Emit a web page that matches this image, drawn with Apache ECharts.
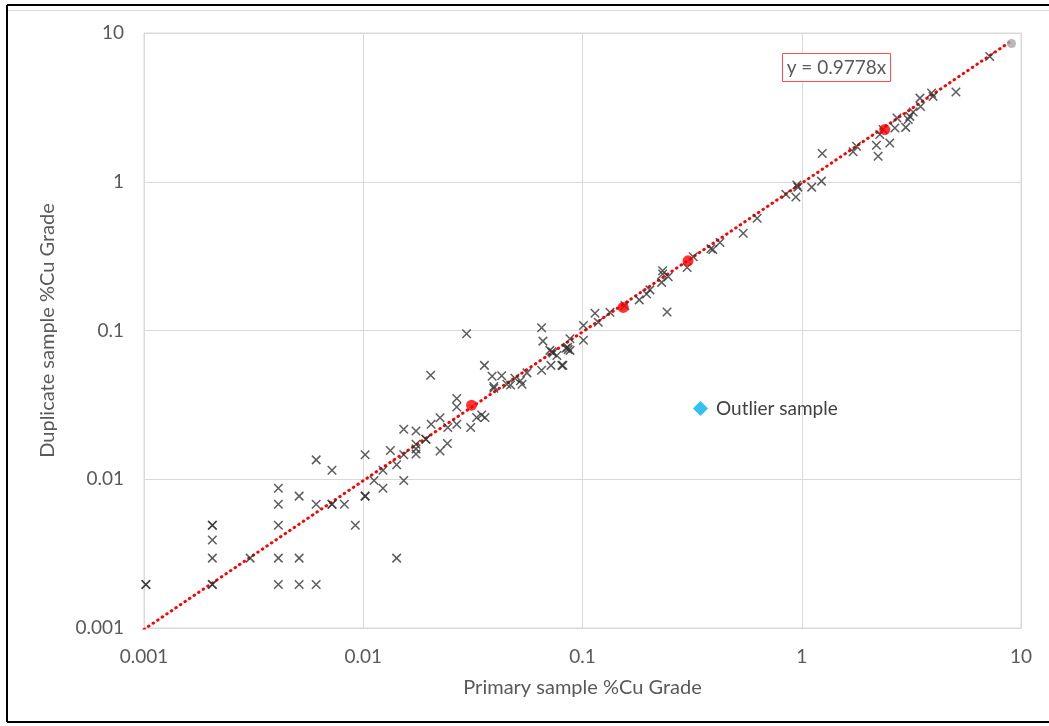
<!DOCTYPE html>
<html>
<head>
<meta charset="utf-8">
<script src="https://cdn.jsdelivr.net/npm/echarts@6/dist/echarts.min.js"></script>
<style>html,body{margin:0;padding:0;background:#fff;}#c{width:1049px;height:726px;}</style>
</head>
<body>
<div id="c"></div>
<script>
// ---- data ----
const xTicks = [0.001, 0.01, 0.1, 1, 10];
const yTicks = [0.001, 0.01, 0.1, 1, 10];
const duplicatePairs = [
  [0.00102,0.00196],[0.00102,0.00196],
  [0.00205,0.0049],[0.00205,0.0049],[0.00205,0.0039],[0.00205,0.00295],[0.00205,0.00196],[0.00205,0.00196],
  [0.00305,0.00295],
  [0.0041,0.0087],[0.0041,0.0068],[0.0041,0.0049],[0.0041,0.00295],[0.0041,0.00196],
  [0.0051,0.0077],[0.0051,0.00295],[0.0051,0.00196],
  [0.0061,0.0135],[0.0061,0.0068],[0.0061,0.00196],
  [0.0072,0.0115],[0.0072,0.0068],[0.0072,0.0068],
  [0.0082,0.0068],[0.0092,0.0049],
  [0.0102,0.0146],[0.0102,0.0077],[0.0102,0.0077],
  [0.0112,0.0098],[0.0123,0.0115],[0.0123,0.0087],[0.0133,0.0156],
  [0.0142,0.0125],[0.0142,0.00295],
  [0.0153,0.0146],[0.0153,0.0098],[0.0153,0.0217],
  [0.0174,0.0211],[0.0174,0.0172],[0.0174,0.016],[0.0174,0.0148],
  [0.0193,0.0186],[0.0193,0.0186],
  [0.0204,0.0234],[0.0224,0.0259],[0.0224,0.0155],[0.0242,0.0174],[0.0243,0.0223],
  [0.0267,0.0234],[0.0267,0.0349],[0.0267,0.0306],
  [0.0296,0.0951],[0.0203,0.050],
  [0.0309,0.0223],[0.0329,0.026],[0.0347,0.027],[0.0359,0.026],
  [0.0357,0.0583],[0.0387,0.0492],[0.0428,0.0497],
  [0.0394,0.0409],[0.0394,0.042],
  [0.0452,0.0435],[0.047,0.043],[0.0492,0.0477],[0.053,0.0435],[0.0521,0.046],[0.0558,0.0519],
  [0.0651,0.054],[0.0651,0.1042],[0.066,0.0848],
  [0.071,0.0735],[0.0733,0.0705],[0.0725,0.072],
  [0.0718,0.0583],[0.0814,0.0583],[0.0805,0.0583],
  [0.0764,0.068],[0.084,0.076],[0.0877,0.0735],[0.086,0.0745],[0.0855,0.077],
  [0.0877,0.088],
  [0.101,0.108],[0.101,0.086],[0.114,0.1306],[0.118,0.1137],[0.1334,0.1327],
  [0.156,0.147],[0.1815,0.1606],[0.196,0.176],[0.203,0.1875],
  [0.2296,0.2106],[0.232,0.240],[0.232,0.2523],[0.246,0.230],[0.243,0.133],
  [0.300,0.2655],[0.32,0.313],[0.385,0.354],[0.393,0.35],[0.4236,0.390],
  [0.541,0.451],[0.626,0.569],[0.846,0.823],[0.94,0.79],[0.95,0.95],[0.96,0.92],
  [1.11,0.92],[1.23,1.01],[1.24,1.549],[1.715,1.589],[1.778,1.734],
  [2.19,1.762],[2.23,1.486],[2.27,2.077],[2.35,2.244],[2.52,1.824],[2.66,2.30],
  [2.72,2.68],[2.98,2.32],[3.06,2.62],[3.11,2.75],[3.22,2.94],
  [3.46,3.65],[3.48,3.21],[3.91,3.95],[3.97,3.75],[5.05,4.01],[7.2,6.95]
];
const checkPoints = [[0.0312,0.0315],[0.1533,0.143],[0.303,0.294],[2.39,2.244]];
const endPoint = [[9.05,8.5]];
const outlierSamples = [];
const slope = 0.9778;
const trendX = [0.001, 9.05];
const trendLine = trendX.map(x => [x, slope * x]);
const equationText = 'y = ' + slope + 'x';

const FONT = 'Lato';
const chart = echarts.init(document.getElementById('c'));
chart.setOption({
  animation: false,
  backgroundColor: '#fff',
  textStyle: { fontFamily: FONT },
  grid: { left: 144, top: 33, right: 28, bottom: 98, show: true, borderColor: '#d9d9d9', borderWidth: 1 },
  legend: {
    data: ['Outlier sample'], left: 688, top: 394, icon: 'diamond', itemWidth: 15, itemHeight: 15, itemGap: 6,
    textStyle: { color: '#404040', fontSize: 19, fontFamily: FONT, padding: [0, 0, 0, 3] }
  },
  xAxis: {
    type: 'log', logBase: 10, min: xTicks[0], max: xTicks[xTicks.length - 1],
    name: 'Primary sample %Cu Grade', nameLocation: 'middle', nameGap: 50,
    nameTextStyle: { color: '#595959', fontSize: 20, fontFamily: FONT },
    axisLine: { lineStyle: { color: '#d9d9d9' } }, axisTick: { show: false },
    axisLabel: { color: '#595959', fontSize: 19, margin: 19, formatter: v => String(+v.toPrecision(3)) },
    splitLine: { show: true, lineStyle: { color: '#d9d9d9' } }
  },
  yAxis: {
    type: 'log', logBase: 10, min: yTicks[0], max: yTicks[yTicks.length - 1],
    name: 'Duplicate sample %Cu Grade', nameLocation: 'middle', nameGap: 86,
    nameTextStyle: { color: '#595959', fontSize: 20, fontFamily: FONT },
    axisLine: { lineStyle: { color: '#d9d9d9' } }, axisTick: { show: false },
    axisLabel: { color: '#595959', fontSize: 19, margin: 20, formatter: v => String(+v.toPrecision(3)) },
    splitLine: { show: true, lineStyle: { color: '#d9d9d9' } }
  },
  series: [
    {
      name: 'Trend', type: 'line', data: trendLine, symbol: 'none', clip: true, z: 3,
      lineStyle: { color: '#ff0000', width: 3, type: [0.5, 5], cap: 'round' }
    },
    {
      name: 'Samples', type: 'scatter', data: duplicatePairs, z: 4,
      symbol: 'path://M0,0L10,10M10,0L0,10', symbolSize: 8.5,
      itemStyle: { color: 'rgba(0,0,0,0)', borderColor: '#333333', borderWidth: 1.5 }
    },
    {
      name: 'Check', type: 'scatter', data: checkPoints, symbol: 'circle', symbolSize: 11, z: 5,
      itemStyle: { color: '#ff0000' }
    },
    {
      name: 'End', type: 'scatter', data: endPoint, symbol: 'circle', symbolSize: 9, z: 5,
      itemStyle: { color: '#a6a6a6' }
    },
    {
      name: 'Outlier sample', type: 'scatter', data: outlierSamples, symbol: 'diamond', symbolSize: 12,
      itemStyle: { color: '#00b0f0' }
    }
  ],
  graphic: [
    { type: 'rect', shape: { x: 782.5, y: 53.5, width: 108, height: 28 }, style: { fill: '#fff', stroke: '#ff4d4d', lineWidth: 1 }, z: 10 },
    { type: 'text', x: 836.5, y: 67.5, style: { text: equationText, fill: '#595959', font: '19px ' + FONT, align: 'center', verticalAlign: 'middle' }, z: 11 },
    { type: 'line', shape: { x1: 7, y1: 5, x2: 1049, y2: 5 }, style: { stroke: '#000', lineWidth: 2 } },
    { type: 'line', shape: { x1: 7, y1: 5, x2: 7, y2: 722 }, style: { stroke: '#000', lineWidth: 2 } },
    { type: 'line', shape: { x1: 7, y1: 722, x2: 1049, y2: 722 }, style: { stroke: '#000', lineWidth: 2 } },
    { type: 'line', shape: { x1: 8, y1: 10.5, x2: 1049, y2: 10.5 }, style: { stroke: '#d9d9d9', lineWidth: 1 } }
  ]
});
</script>
</body>
</html>
